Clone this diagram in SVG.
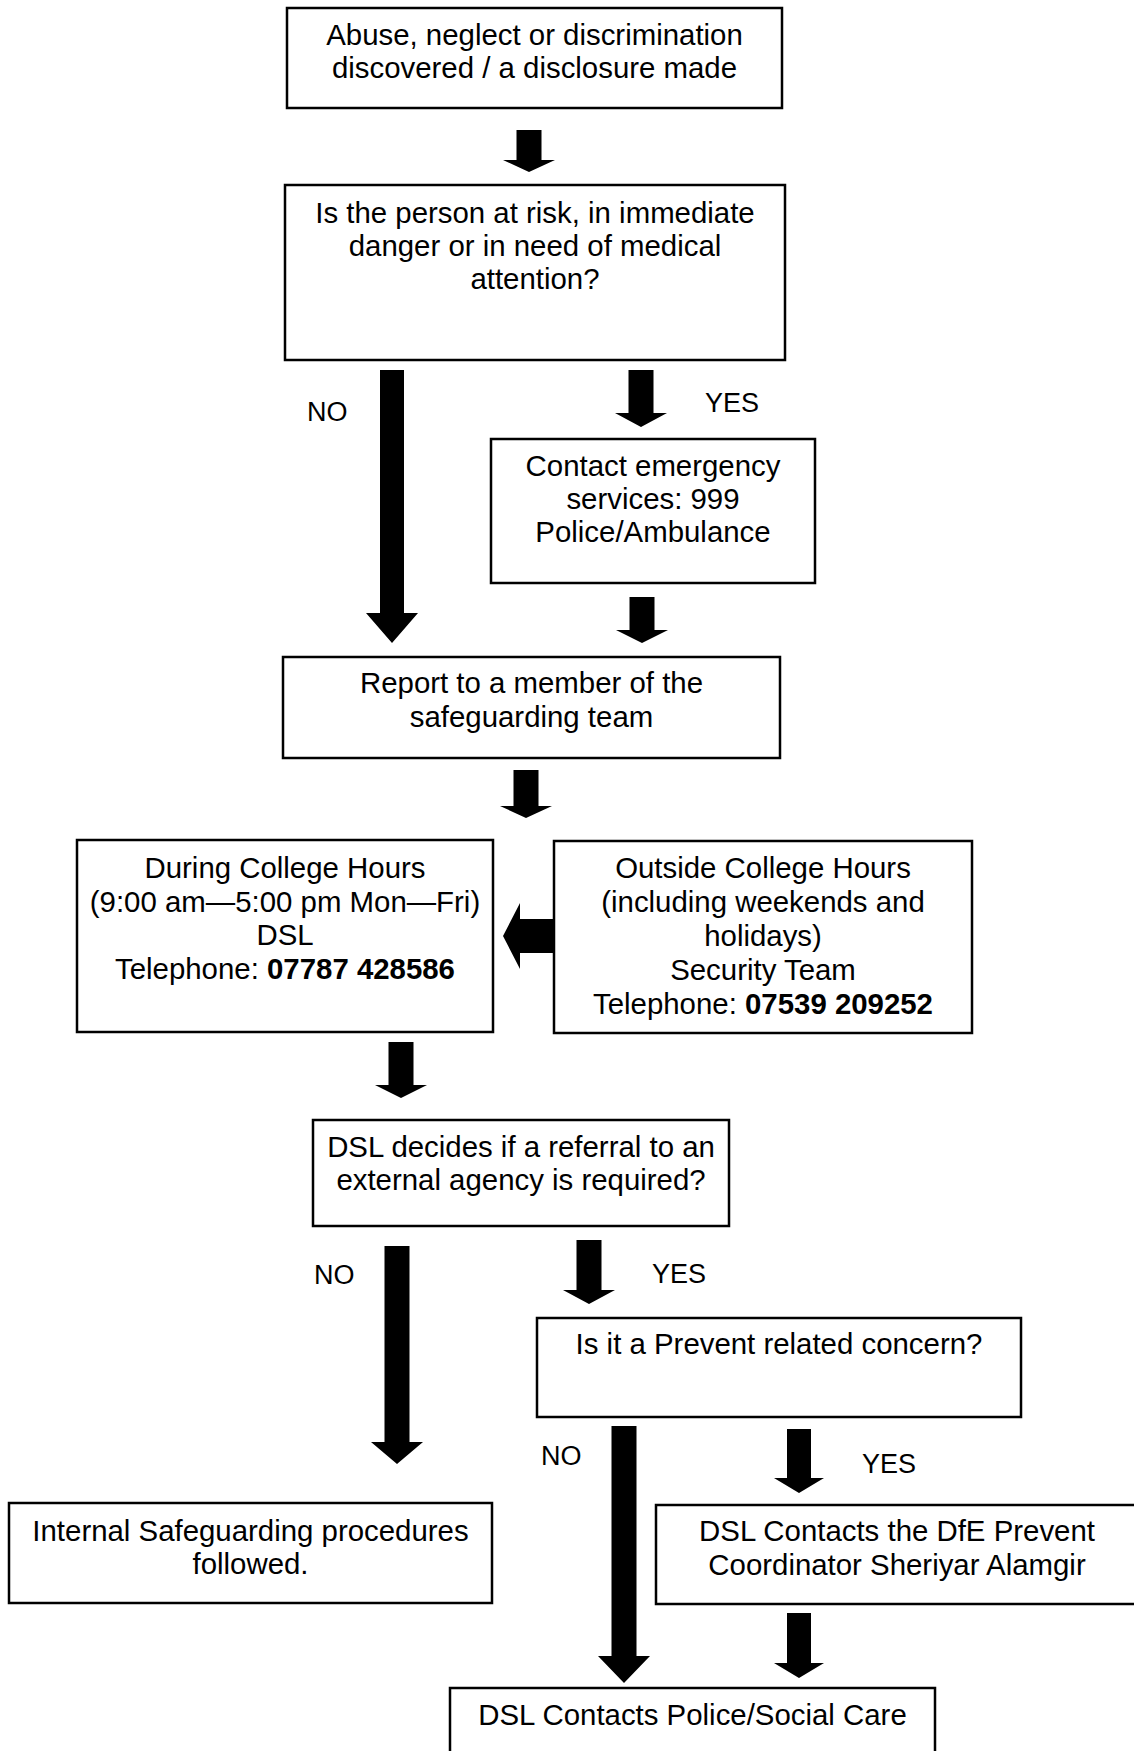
<svg xmlns="http://www.w3.org/2000/svg" width="1134" height="1751" viewBox="0 0 1134 1751">
<style>
.box{fill:#fff;stroke:#000;stroke-width:2.5}
.t{font-family:"Liberation Sans",Arial,sans-serif;font-size:29.4px;fill:#000;text-anchor:middle}
.lbl{font-family:"Liberation Sans",Arial,sans-serif;font-size:27px;fill:#000}
.arr{fill:#000}
.b{font-weight:bold}
</style>
<rect x="0" y="0" width="1134" height="1751" fill="#fff"/>
<g id="connectors">
<path class="arr" d="M516.5,130H541.5V160H555L529,172L503,160H516.5Z"/>
<path class="arr" d="M380,370H404V613H418L392,643L366,613H380Z"/>
<path class="arr" d="M628.5,370H653.5V413H667L641,427L615,413H628.5Z"/>
<path class="arr" d="M629.5,597H654.5V630H668L642,643L616,630H629.5Z"/>
<path class="arr" d="M513.5,770H538.5V806H552L526,818L500,806H513.5Z"/>
<path class="arr" d="M554,919H520V903L503,936L520,969V953H554Z"/>
<path class="arr" d="M388.5,1042H413.5V1085H427L401,1098L375,1085H388.5Z"/>
<path class="arr" d="M384.5,1246H409.5V1442H423L397,1464L371,1442H384.5Z"/>
<path class="arr" d="M576.5,1240H601.5V1290H615L589,1304L563,1290H576.5Z"/>
<path class="arr" d="M611.5,1426H636.5V1656H650L624,1683L598,1656H611.5Z"/>
<path class="arr" d="M787,1429H811V1478H824L799,1493L774,1478H787Z"/>
<path class="arr" d="M787,1613H811V1663H824L799,1678L774,1663H787Z"/>
<text class="lbl" x="307" y="421">NO</text>
<text class="lbl" x="705" y="412">YES</text>
<text class="lbl" x="314" y="1284">NO</text>
<text class="lbl" x="652" y="1283">YES</text>
<text class="lbl" x="541" y="1465">NO</text>
<text class="lbl" x="862" y="1473">YES</text>
</g>
<g id="n1"><rect class="box" x="287" y="8" width="495" height="100"/>
<text class="t" x="534.5" y="45">Abuse, neglect or discrimination</text>
<text class="t" x="534.5" y="78">discovered / a disclosure made</text></g>
<g id="n2"><rect class="box" x="285" y="185" width="500" height="175"/>
<text class="t" x="535" y="223">Is the person at risk, in immediate</text>
<text class="t" x="535" y="256">danger or in need of medical</text>
<text class="t" x="535" y="289">attention?</text></g>
<g id="n3"><rect class="box" x="491" y="439" width="324" height="144"/>
<text class="t" x="653" y="476">Contact emergency</text>
<text class="t" x="653" y="509">services: 999</text>
<text class="t" x="653" y="542">Police/Ambulance</text></g>
<g id="n4"><rect class="box" x="283" y="657" width="497" height="101"/>
<text class="t" x="531.5" y="693">Report to a member of the</text>
<text class="t" x="531.5" y="727">safeguarding team</text></g>
<g id="n5"><rect class="box" x="77" y="840" width="416" height="192"/>
<text class="t" x="285" y="878">During College Hours</text>
<text class="t" x="285" y="912">(9:00 am—5:00 pm Mon—Fri)</text>
<text class="t" x="285" y="945">DSL</text>
<text class="t" x="285" y="979">Telephone: <tspan class="b">07787 428586</tspan></text></g>
<g id="n6"><rect class="box" x="554" y="841" width="418" height="192"/>
<text class="t" x="763" y="878">Outside College Hours</text>
<text class="t" x="763" y="912">(including weekends and</text>
<text class="t" x="763" y="946">holidays)</text>
<text class="t" x="763" y="980">Security Team</text>
<text class="t" x="763" y="1014">Telephone: <tspan class="b">07539 209252</tspan></text></g>
<g id="n7"><rect class="box" x="313" y="1120" width="416" height="106"/>
<text class="t" x="521" y="1157">DSL decides if a referral to an</text>
<text class="t" x="521" y="1190">external agency is required?</text></g>
<g id="n8"><rect class="box" x="537" y="1318" width="484" height="99"/>
<text class="t" x="779" y="1354">Is it a Prevent related concern?</text></g>
<g id="n9"><rect class="box" x="9" y="1503" width="483" height="100"/>
<text class="t" x="250.5" y="1541">Internal Safeguarding procedures</text>
<text class="t" x="250.5" y="1574">followed.</text></g>
<g id="n10"><rect class="box" x="656" y="1505" width="484" height="99"/>
<text class="t" x="897" y="1541">DSL Contacts the DfE Prevent</text>
<text class="t" x="897" y="1575">Coordinator Sheriyar Alamgir</text></g>
<g id="n11"><rect class="box" x="450" y="1688" width="485" height="80"/>
<text class="t" x="692.5" y="1725">DSL Contacts Police/Social Care</text></g>
</svg>
